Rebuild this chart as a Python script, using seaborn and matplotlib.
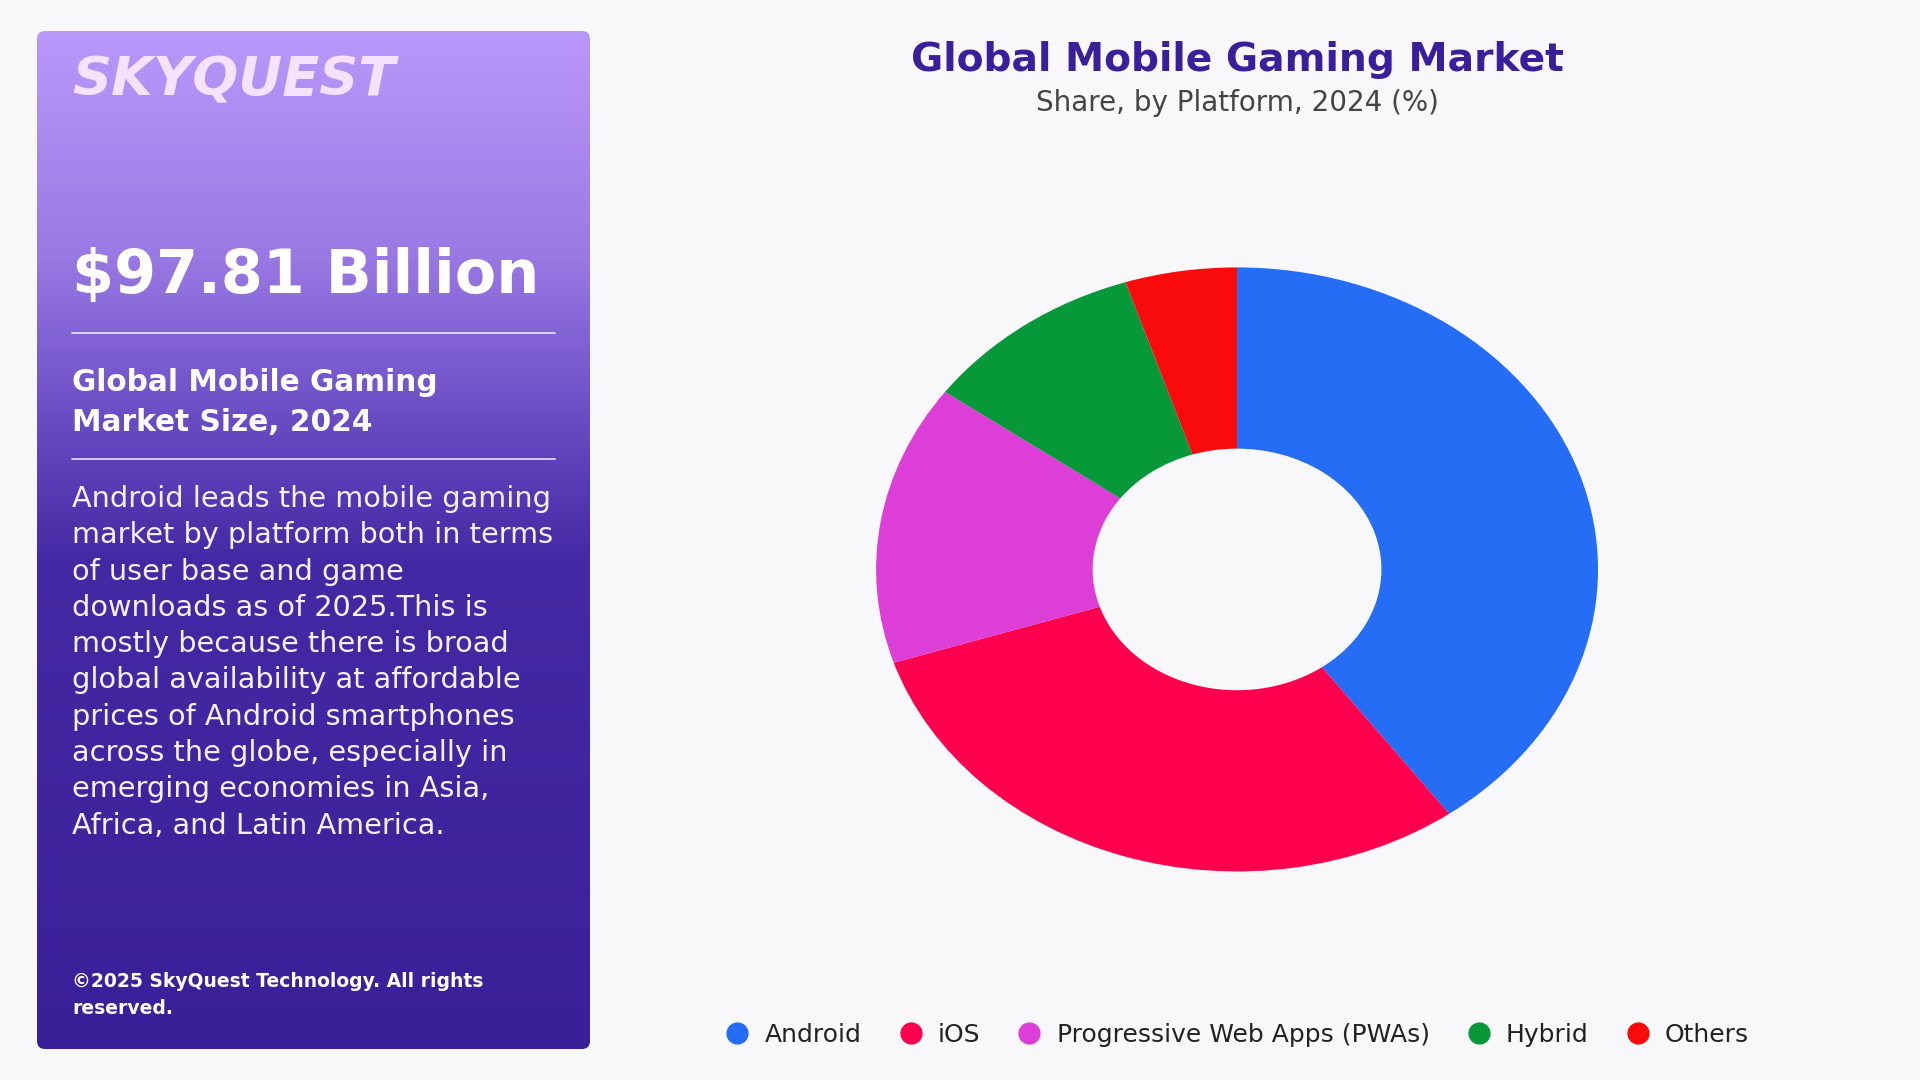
import numpy as np
import matplotlib.pyplot as plt
import matplotlib.colors as mcolors
from matplotlib.patches import FancyBboxPatch
from matplotlib.lines import Line2D
import seaborn as sns

# data
platforms = ["Android", "iOS", "Progressive Web Apps (PWAs)", "Hybrid", "Others"]
share = [40, 30, 15, 10, 5]
platform_colors = ["#256DF5", "#FF004F", "#DD3ED8", "#07983A", "#F90B0B"]

title = "Global Mobile Gaming Market"
subtitle = "Share, by Platform, 2024 (%)"
brand = "SKYQUEST"
headline_value = "$97.81 Billion"
headline_label = ["Global Mobile Gaming", "Market Size, 2024"]
summary_lines = [
    "Android leads the mobile gaming",
    "market by platform both in terms",
    "of user base and game",
    "downloads as of 2025.This is",
    "mostly because there is broad",
    "global availability at affordable",
    "prices of Android smartphones",
    "across the globe, especially in",
    "emerging economies in Asia,",
    "Africa, and Latin America.",
]
copyright_lines = ["\u00a92025 SkyQuest Technology. All rights", "reserved."]

sns.set_theme(style="white")
plt.rcParams["font.family"] = ["DejaVu Sans"]

bg = "#F8F8FA"
palette = sns.color_palette(platform_colors)

fig = plt.figure(figsize=(19.2, 10.8), dpi=100, facecolor=bg)

# left info panel, drawn in pixel coordinates
pax = fig.add_axes([0, 0, 1, 1])
pax.axis("off")
grad = np.linspace(0, 1, 512).reshape(-1, 1)
cmap = mcolors.LinearSegmentedColormap.from_list(
    "panel",
    [(0, "#BA98FA"), (0.22, "#9A79E4"), (0.38, "#6A4CC4"), (0.52, "#4429A4"), (1, "#3A2098")],
)
box = FancyBboxPatch((37, 31), 553, 1018, boxstyle="round,pad=0,rounding_size=8",
                     facecolor="none", edgecolor="none")
pax.add_patch(box)
im = pax.imshow(grad, extent=(37, 590, 1049, 31), cmap=cmap, aspect="auto", zorder=1)
im.set_clip_path(box)
pax.set_xlim(0, 1920)
pax.set_ylim(1080, 0)

pax.text(72, 95, brand, fontsize=39, fontweight="bold", fontstyle="italic",
         color="#F4E2FF", va="baseline", ha="left", zorder=3)
pax.text(72, 293, headline_value, fontsize=43.5, fontweight="bold", color="white",
         va="baseline", ha="left", zorder=3)
pax.plot([72, 555], [333, 333], color="white", lw=1.2, alpha=0.85, zorder=3)
for i, line in enumerate(headline_label):
    pax.text(72, 391 + i * 40, line, fontsize=21.3, fontweight="bold", color="white",
             va="baseline", ha="left", zorder=3)
pax.plot([72, 555], [459, 459], color="white", lw=1.2, alpha=0.85, zorder=3)
for i, line in enumerate(summary_lines):
    pax.text(72, 507 + i * 36.3, line, fontsize=20.7, color="#F4F0FF",
             va="baseline", ha="left", zorder=3)
for i, line in enumerate(copyright_lines):
    pax.text(72, 987 + i * 27, line, fontsize=13.5, fontweight="bold", color="white",
             va="baseline", ha="left", zorder=3)

# titles
fig.text(1237 / 1920, 1 - 71 / 1080, title, fontsize=28.3, fontweight="bold",
         color="#3A1F9C", ha="center", va="baseline")
fig.text(1237 / 1920, 1 - 111 / 1080, subtitle, fontsize=20, color="#444444",
         ha="center", va="baseline")

# donut (slightly squashed, like the reference)
ax = fig.add_axes([0.4563, 0.1931, 0.3760, 0.5593])
ax.pie(share, colors=palette, startangle=90, counterclock=False, radius=1,
       wedgeprops=dict(width=0.6, linewidth=0))
ax.set_aspect("auto")
ax.set_xlim(-1, 1)
ax.set_ylim(-1, 1)
ax.axis("off")

handles = [Line2D([0], [0], marker="o", linestyle="", markersize=16,
                  markerfacecolor=c, markeredgewidth=0) for c in palette]
fig.legend(handles, platforms, loc="center", bbox_to_anchor=(1237 / 1920, 1 - 1035 / 1080),
           ncol=5, frameon=False, fontsize=18, handlelength=1.0, handletextpad=0.6,
           columnspacing=1.45, labelcolor="#222222")

fig.savefig("out.png", dpi=100, facecolor=bg)
